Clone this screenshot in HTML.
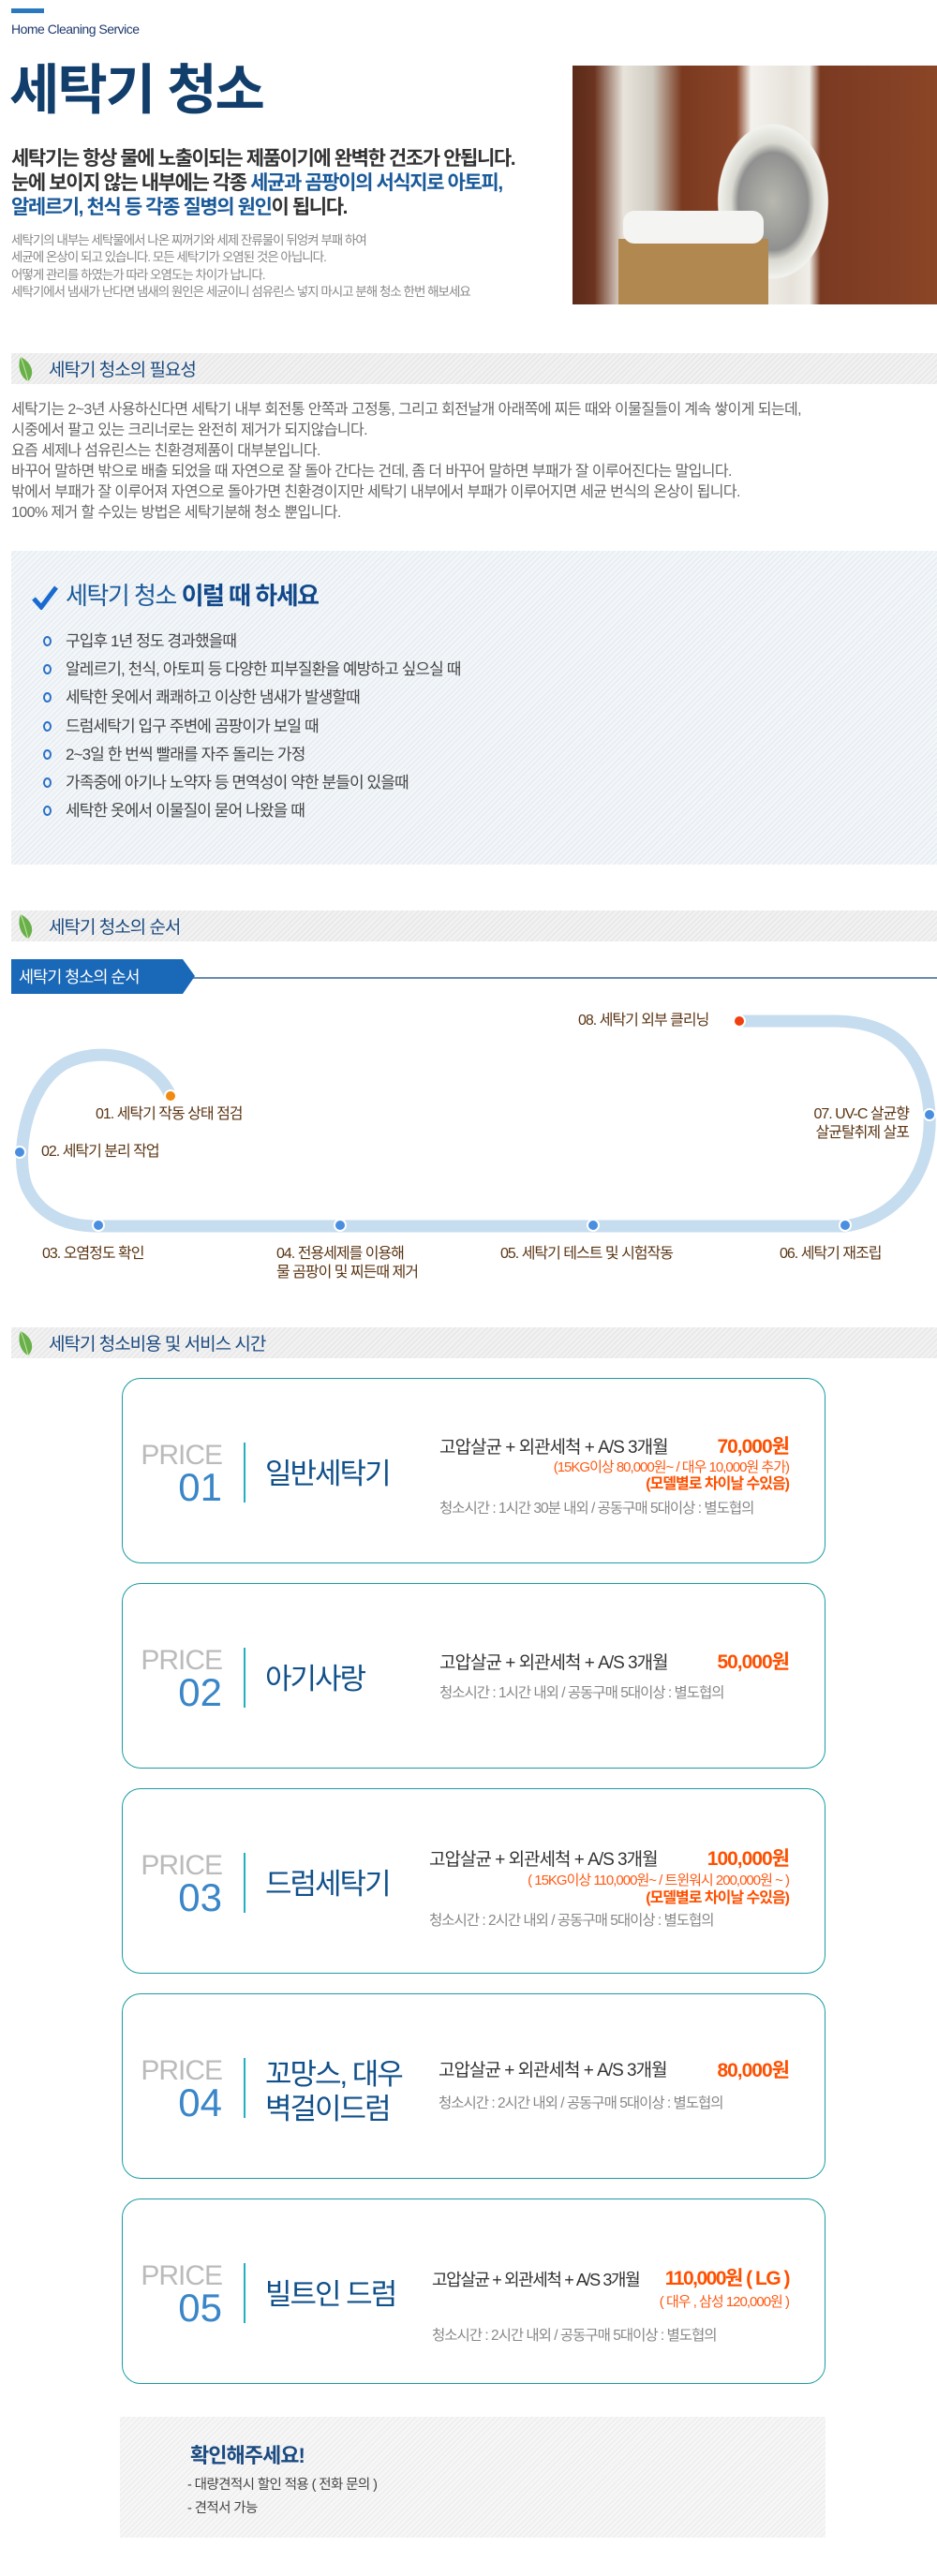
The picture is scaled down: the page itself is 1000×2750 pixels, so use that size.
<!DOCTYPE html>
<html><head><meta charset="utf-8">
<style>
*{margin:0;padding:0;box-sizing:border-box}
body{width:1000px;height:2750px;position:relative;background:#fff;font-family:"Liberation Sans","Noto Sans CJK KR",sans-serif;overflow:hidden}
.a{position:absolute;white-space:nowrap}
.stripe{background:repeating-linear-gradient(135deg,#f1f1f1 0,#f1f1f1 3px,#e4e4e4 3px,#e4e4e4 4px)}
.sec{position:absolute;left:12px;width:988px;height:33px}
.sec .t{position:absolute;left:40px;top:3px;font-size:19px;color:#1a4a80;letter-spacing:-1px}
.sec svg{position:absolute;left:4px;top:2px}
.card{position:absolute;left:130px;width:751px;height:198px;border:1.5px solid #1a9ca3;border-radius:20px}
.pr{position:absolute;right:643px;font-size:30px;color:#bbb;letter-spacing:-1px;line-height:1}
.num{position:absolute;right:643px;font-size:42px;color:#3a86c8;line-height:1}
.vl{position:absolute;left:129px;width:2px;height:64px;background:#22b0c0}
.nm{position:absolute;left:152px;font-size:31px;color:#10508a;letter-spacing:-2px;line-height:1}
.l1{position:absolute;font-size:19px;color:#333;letter-spacing:-1px;line-height:1}
.pp{position:absolute;right:38px;font-size:21px;color:#ff5000;font-weight:bold;letter-spacing:-1px;line-height:1}
.po{position:absolute;right:38px;font-size:15px;color:#ff5a14;letter-spacing:-1px;line-height:1}
.pb{position:absolute;right:38px;font-size:16px;color:#ff5000;font-weight:bold;letter-spacing:-1px;line-height:1}
.l4{position:absolute;font-size:15.5px;color:#888;letter-spacing:-1px;line-height:1}
.lab{position:absolute;font-size:16px;color:#5b3514;letter-spacing:-1px;line-height:20px;white-space:nowrap}
.dot{position:absolute;width:14px;height:14px;border-radius:50%;background:#4a8ee0;border:2px solid #fff;margin:-7px 0 0 -7px}
.li{display:inline-block;width:9px;height:11px;border:2.5px solid #2a70c8;border-radius:50%;margin-right:15px}
</style></head><body>
<div class="a" style="left:12px;top:9px;width:35px;height:5px;background:#2a78c0"></div>
<div class="a" style="left:12px;top:23px;font-size:14px;color:#1e3a6e;letter-spacing:-0.5px">Home Cleaning Service</div>
<div class="a" style="left:10px;top:62px;font-size:58px;font-weight:bold;color:#123e6b;letter-spacing:-2px;line-height:70px">세탁기 청소</div>
<div class="a" style="left:12px;top:157px;font-size:21px;font-weight:bold;color:#333;letter-spacing:-1.4px;line-height:26px">세탁기는 항상 물에 노출이되는 제품이기에 완벽한 건조가 안됩니다.<br>눈에 보이지 않는 내부에는 각종 <span style="color:#1a5a9a">세균과 곰팡이의 서식지로 아토피,</span><br><span style="color:#1a5a9a">알레르기, 천식 등 각종 질병의 원인</span>이 됩니다.</div>
<div class="a" style="left:12px;top:248px;font-size:13.5px;color:#888;letter-spacing:-1px;line-height:18.3px">세탁기의 내부는 세탁물에서 나온 찌꺼기와 세제 잔류물이 뒤엉켜 부패 하여<br>세균에 온상이 되고 있습니다. 모든 세탁기가 오염된 것은 아닙니다.<br>어떻게 관리를 하였는가 따라 오염도는 차이가 납니다.<br>세탁기에서 냄새가 난다면 냄새의 원인은 세균이니 섬유린스 넣지 마시고 분해 청소 한번 해보세요</div>
<div class="a" style="left:611px;top:70px;width:389px;height:255px;background:linear-gradient(90deg,#5a2a18 0,#6b3420 6%,#e8e4dc 14%,#cfcac0 22%,#7a3a20 30%,#8a4428 45%,#f4f2ee 49%,#e6e2da 60%,#f0eee8 65%,#7a3a22 68%,#8b4527 100%)"></div>
<div class="a" style="left:750px;top:110px;width:150px;height:210px;border-radius:40%;background:radial-gradient(ellipse at center,#b8b8b0 0,#909090 35%,#d8d8d0 42%,#f2f2ee 55%,transparent 56%)"></div>
<div class="a" style="left:660px;top:255px;width:160px;height:70px;background:#b08850"></div>
<div class="a" style="left:665px;top:225px;width:150px;height:35px;border-radius:12px;background:#f4f4f2"></div>

<div class="sec stripe" style="top:377px"><svg width="30" height="30" viewBox="0 0 30 30"><path d="M6 2 C18 8 22 20 14 28 C6 24 2 12 6 2Z" fill="#6ab04a"/><path d="M6 2 C10 12 12 20 14 28" stroke="#c8e8a8" fill="none"/></svg><div class="t">세탁기 청소의 필요성</div></div>
<div class="a" style="left:12px;top:427px;font-size:16px;color:#666;letter-spacing:-0.6px;line-height:22px">세탁기는 2~3년 사용하신다면 세탁기 내부 회전통 안쪽과 고정통, 그리고 회전날개 아래쪽에 찌든 때와 이물질들이 계속 쌓이게 되는데,<br>시중에서 팔고 있는 크리너로는 완전히 제거가 되지않습니다.<br>요즘 세제나 섬유린스는 친환경제품이 대부분입니다.<br>바꾸어 말하면 밖으로 배출 되었을 때 자연으로 잘 돌아 간다는 건데, 좀 더 바꾸어 말하면 부패가 잘 이루어진다는 말입니다.<br>밖에서 부패가 잘 이루어져 자연으로 돌아가면 친환경이지만 세탁기 내부에서 부패가 이루어지면 세균 번식의 온상이 됩니다.<br>100% 제거 할 수있는 방법은 세탁기분해 청소 뿐입니다.</div>

<div class="a" style="left:12px;top:588px;width:988px;height:335px;background:repeating-linear-gradient(135deg,#f3f6f9 0,#f3f6f9 3px,#e2e9ef 3px,#e2e9ef 4px)"></div>
<svg class="a" style="left:34px;top:625px" width="28" height="26" viewBox="0 0 28 26"><path d="M2 14 L10 23 L26 2" stroke="#1a6ad0" stroke-width="5" fill="none"/></svg>
<div class="a" style="left:70px;top:620px;font-size:26px;color:#1a5a9a;letter-spacing:-1.5px;line-height:32px">세탁기 청소 <b style="color:#10488a">이럴 때 하세요</b></div>
<div class="a" style="left:46px;top:670px;font-size:17px;color:#444;letter-spacing:-0.9px;line-height:30.2px">
<div><span class="li"></span>구입후 1년 정도 경과했을때</div>
<div><span class="li"></span>알레르기, 천식, 아토피 등 다양한 피부질환을 예방하고 싶으실 때</div>
<div><span class="li"></span>세탁한 옷에서 쾌쾌하고 이상한 냄새가 발생할때</div>
<div><span class="li"></span>드럼세탁기 입구 주변에 곰팡이가 보일 때</div>
<div><span class="li"></span>2~3일 한 번씩 빨래를 자주 돌리는 가정</div>
<div><span class="li"></span>가족중에 아기나 노약자 등 면역성이 약한 분들이 있을때</div>
<div><span class="li"></span>세탁한 옷에서 이물질이 묻어 나왔을 때</div>
</div>

<div class="sec stripe" style="top:972px"><svg width="30" height="30" viewBox="0 0 30 30"><path d="M6 2 C18 8 22 20 14 28 C6 24 2 12 6 2Z" fill="#6ab04a"/><path d="M6 2 C10 12 12 20 14 28" stroke="#c8e8a8" fill="none"/></svg><div class="t">세탁기 청소의 순서</div></div>
<div class="a" style="left:200px;top:1043px;width:800px;height:1.5px;background:#6a8ab0"></div>
<svg class="a" style="left:12px;top:1024px" width="196" height="37"><polygon points="0,0 183,0 196,18 183,37 0,37" fill="#1a68b8"/></svg>
<div class="a" style="left:20px;top:1030px;font-size:17.5px;color:#fff;letter-spacing:-1px">세탁기 청소의 순서</div>

<svg class="a" style="left:0;top:0" width="1000" height="1400"><path d="M182,1170 C165,1130 110,1115 70,1135 C25,1160 15,1240 30,1270 C45,1300 75,1309 103,1309 L902,1309 C960,1300 995,1250 992,1190 C988,1120 950,1090 889,1090 L789,1090" fill="none" stroke="#c6dcef" stroke-width="13"/></svg>
<div class="dot" style="left:182px;top:1170px;background:#f08a10"></div>
<div class="dot" style="left:21px;top:1230px"></div>
<div class="dot" style="left:105px;top:1308px"></div>
<div class="dot" style="left:363px;top:1308px"></div>
<div class="dot" style="left:633px;top:1308px"></div>
<div class="dot" style="left:902px;top:1308px"></div>
<div class="dot" style="left:992px;top:1190px"></div>
<div class="dot" style="left:789px;top:1090px;background:#f04010"></div>
<div class="lab" style="left:102px;top:1180px">01. 세탁기 작동 상태 점검</div>
<div class="lab" style="left:44px;top:1220px">02. 세탁기 분리 작업</div>
<div class="lab" style="left:45px;top:1329px">03. 오염정도 확인</div>
<div class="lab" style="left:295px;top:1329px">04. 전용세제를 이용해<br>물 곰팡이 및 찌든때 제거</div>
<div class="lab" style="left:534px;top:1329px">05. 세탁기 테스트 및 시험작동</div>
<div class="lab" style="left:832px;top:1329px">06. 세탁기 재조립</div>
<div class="lab" style="right:30px;top:1180px;text-align:right">07. UV-C 살균향<br>살균탈취제 살포</div>
<div class="lab" style="left:617px;top:1080px">08. 세탁기 외부 클리닝</div>

<div class="sec stripe" style="top:1417px"><svg width="30" height="30" viewBox="0 0 30 30"><path d="M6 2 C18 8 22 20 14 28 C6 24 2 12 6 2Z" fill="#6ab04a"/><path d="M6 2 C10 12 12 20 14 28" stroke="#c8e8a8" fill="none"/></svg><div class="t">세탁기 청소비용 및 서비스 시간</div></div>

<div class="card" style="top:1471px">
<div class="pr" style="top:67px">PRICE</div><div class="num" style="top:95px">01</div><div class="vl" style="top:68px"></div>
<div class="nm" style="top:86px">일반세탁기</div>
<div class="l1" style="left:338px;top:64px">고압살균 + 외관세척 + A/S 3개월</div>
<div class="pp" style="top:62px">70,000원</div>
<div class="po" style="top:87px">(15KG이상 80,000원~ / 대우 10,000원 추가)</div>
<div class="pb" style="top:105px">(모델별로 차이날 수있음)</div>
<div class="l4" style="left:338px;top:131px">청소시간 : 1시간 30분 내외 / 공동구매 5대이상 : 별도협의</div>
</div>

<div class="card" style="top:1690px">
<div class="pr" style="top:67px">PRICE</div><div class="num" style="top:95px">02</div><div class="vl" style="top:68px"></div>
<div class="nm" style="top:86px">아기사랑</div>
<div class="l1" style="left:338px;top:75px">고압살균 + 외관세척 + A/S 3개월</div>
<div class="pp" style="top:73px">50,000원</div>
<div class="l4" style="left:338px;top:109px">청소시간 : 1시간 내외 / 공동구매 5대이상 : 별도협의</div>
</div>

<div class="card" style="top:1909px">
<div class="pr" style="top:67px">PRICE</div><div class="num" style="top:95px">03</div><div class="vl" style="top:68px"></div>
<div class="nm" style="top:86px">드럼세탁기</div>
<div class="l1" style="left:327px;top:66px">고압살균 + 외관세척 + A/S 3개월</div>
<div class="pp" style="top:64px">100,000원</div>
<div class="po" style="top:90px">( 15KG이상 110,000원~ / 트윈워시 200,000원 ~ )</div>
<div class="pb" style="top:109px">(모델별로 차이날 수있음)</div>
<div class="l4" style="left:327px;top:133px">청소시간 : 2시간 내외 / 공동구매 5대이상 : 별도협의</div>
</div>

<div class="card" style="top:2128px">
<div class="pr" style="top:67px">PRICE</div><div class="num" style="top:95px">04</div><div class="vl" style="top:68px"></div>
<div class="nm" style="top:67px;line-height:37px">꼬망스, 대우<br>벽걸이드럼</div>
<div class="l1" style="left:337px;top:72px">고압살균 + 외관세척 + A/S 3개월</div>
<div class="pp" style="top:71px">80,000원</div>
<div class="l4" style="left:337px;top:109px">청소시간 : 2시간 내외 / 공동구매 5대이상 : 별도협의</div>
</div>

<div class="card" style="top:2347px">
<div class="pr" style="top:67px">PRICE</div><div class="num" style="top:95px">05</div><div class="vl" style="top:68px"></div>
<div class="nm" style="top:86px">빌트인 드럼</div>
<div class="l1" style="left:330px;top:77px;font-size:18px;letter-spacing:-1.4px">고압살균 + 외관세척 + A/S 3개월</div>
<div class="pp" style="top:74px;letter-spacing:-1.5px">110,000원 ( LG )</div>
<div class="po" style="top:102px">( 대우 , 삼성 120,000원 )</div>
<div class="l4" style="left:330px;top:138px">청소시간 : 2시간 내외 / 공동구매 5대이상 : 별도협의</div>
</div>

<div class="a" style="left:128px;top:2580px;width:753px;height:129px;background:repeating-linear-gradient(135deg,#f6f6f6 0,#f6f6f6 3px,#ebebeb 3px,#ebebeb 4px)"></div>
<div class="a" style="left:203px;top:2604px;font-size:22px;font-weight:bold;color:#1a4a80;letter-spacing:-1px">확인해주세요!</div>
<div class="a" style="left:200px;top:2641px;font-size:14.5px;color:#444;letter-spacing:-0.6px;line-height:25px">- 대량견적시 할인 적용 ( 전화 문의 )<br>- 견적서 가능</div>
</body></html>
